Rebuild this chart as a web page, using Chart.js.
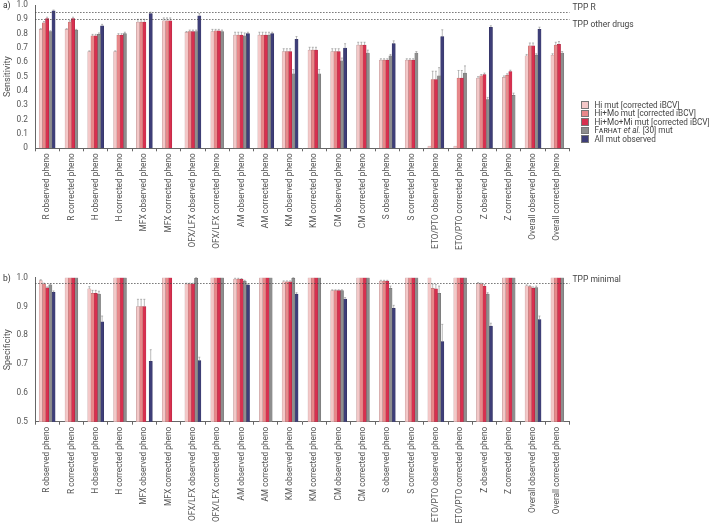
<!DOCTYPE html>
<html>
<head>
<meta charset="utf-8">
<script src="https://cdn.jsdelivr.net/npm/chart.js@4.4.1/dist/chart.umd.min.js"></script>
<style>
    body { margin: 0; background: #fff; font-family: Roboto, sans-serif; }
    #wrap { position: relative; width: 709px; height: 523px; overflow: hidden; }
    canvas { position: absolute; left: 0; }
    #sens-chart { top: 0; }
    #spec-chart { top: 252px; }
    .panel { position: absolute; left: 3px; font-size: 8.5px; color: #333; }
    #legend { position: absolute; left: 581px; top: 100.5px; font-size: 8.2px; color: #444; white-space: nowrap; }
    #legend .item { height: 8.6px; line-height: 8.6px; display: flex; align-items: center; }
    #legend .sw { width: 5.5px; height: 5.5px; margin-right: 6px; border: 0.5px solid #777; flex: none; }
    .sc { font-variant: small-caps; }
</style>
</head>
<body>
<div id="wrap">
    <canvas id="sens-chart" width="709" height="252"></canvas>
    <canvas id="spec-chart" width="709" height="271"></canvas>
    <div class="panel" style="top:0px">a)</div>
    <div class="panel" style="top:273px">b)</div>
    <div id="legend"></div>
</div>
<script>
const categories = [
    "R observed pheno", "R corrected pheno", "H observed pheno", "H corrected pheno",
    "MFX observed pheno", "MFX corrected pheno", "OFX/LFX observed pheno", "OFX/LFX corrected pheno",
    "AM observed pheno", "AM corrected pheno", "KM observed pheno", "KM corrected pheno",
    "CM observed pheno", "CM corrected pheno", "S observed pheno", "S corrected pheno",
    "ETO/PTO observed pheno", "ETO/PTO corrected pheno", "Z observed pheno", "Z corrected pheno",
    "Overall observed pheno", "Overall corrected pheno",
];

const seriesLabels = [
    "Hi mut [corrected iBCV]",
    "Hi+Mo mut [corrected iBCV]",
    "Hi+Mo+Mi mut [corrected iBCV]",
    "Farhat et al. [30] mut",
    "All mut observed",
];
const seriesColors = ["#f4c8c8", "#e8888a", "#d8304f", "#8e8e8e", "#3e3e78"];
const seriesBorders = ["#b99494", "#b86366", "#a82440", "#6e6e6e", "#2e2e5c"];

// sensitivity (panel a)
const hiSens = [0.83, 0.83, 0.675, 0.675, 0.88, 0.89, 0.81, 0.815, 0.79, 0.79, 0.675, 0.685, 0.675, 0.72, 0.615, 0.615, 0.015, 0.015, 0.49, 0.495, 0.645, 0.65];
const hiMoSens = [0.875, 0.88, 0.785, 0.79, 0.88, 0.89, 0.815, 0.82, 0.79, 0.79, 0.675, 0.685, 0.675, 0.72, 0.615, 0.615, 0.48, 0.49, 0.505, 0.51, 0.715, 0.72];
const hiMoMiSens = [0.905, 0.905, 0.785, 0.79, 0.88, 0.89, 0.815, 0.82, 0.79, 0.79, 0.675, 0.685, 0.675, 0.72, 0.615, 0.615, 0.48, 0.49, 0.515, 0.535, 0.715, 0.725];
const farhatSens = [0.815, 0.825, 0.795, 0.8, 0, 0, 0.815, 0.815, 0.785, 0.79, 0.52, 0.52, 0.61, 0.665, 0.645, 0.665, 0.505, 0.525, 0.34, 0.37, 0.65, 0.665];
const allObsSens = [0.96, null, 0.855, null, 0.94, null, 0.925, null, 0.8, 0.8, 0.76, null, 0.7, null, 0.73, null, 0.78, null, 0.845, null, 0.83, null];

const hiSensErr = [0.005, 0.005, 0.005, 0.005, 0.02, 0.02, 0.005, 0.015, 0.02, 0.02, 0.02, 0.02, 0.02, 0.02, 0.01, 0.01, 0, 0, 0.01, 0.01, 0.01, 0.01];
const hiMoSensErr = [0.01, 0.01, 0.01, 0.01, 0.02, 0.02, 0.01, 0.01, 0.02, 0.02, 0.02, 0.02, 0.02, 0.02, 0.01, 0.01, 0.058, 0.053, 0.01, 0.01, 0.02, 0.02];
const hiMoMiSensErr = [0.01, 0.01, 0.01, 0.01, 0.02, 0.02, 0.01, 0.01, 0.02, 0.02, 0.02, 0.02, 0.02, 0.02, 0.01, 0.01, 0.058, 0.053, 0.01, 0.01, 0.02, 0.02];
const farhatSensErr = [0.005, 0.005, 0.01, 0.01, 0, 0, 0.01, 0.01, 0.02, 0.02, 0.03, 0.03, 0.02, 0.02, 0.01, 0.01, 0.058, 0.05, 0.015, 0.015, 0.01, 0.01];
const allObsSensErr = [0.005, 0, 0.01, 0, 0.01, 0, 0.015, 0, 0.01, 0.01, 0.02, 0, 0.03, 0, 0.02, 0, 0.047, 0, 0.01, 0, 0.015, 0];

// specificity (panel b)
const hiSpec = [0.99, 1, 0.961, 1, 0.9, 1, 0.978, 1, 0.995, 1, 0.986, 1, 0.955, 1, 0.988, 1, 1, 1, 0.98, 1, 0.972, 1];
const hiMoSpec = [0.978, 1, 0.946, 1, 0.9, 1, 0.978, 1, 0.995, 1, 0.986, 1, 0.955, 1, 0.988, 1, 0.963, 1, 0.978, 1, 0.969, 1];
const hiMoMiSpec = [0.965, 1, 0.946, 1, 0.9, 1, 0.978, 1, 0.994, 1, 0.986, 1, 0.955, 1, 0.988, 1, 0.961, 1, 0.971, 1, 0.963, 1];
const farhatSpec = [0.975, 1, 0.943, 1, 0, 0, 0.998, 1, 0.988, 1, 0.998, 1, 0.955, 1, 0.963, 1, 0.946, 1, 0.943, 1, 0.966, 1];
const allObsSpec = [0.949, null, 0.847, null, 0.71, null, 0.712, null, 0.975, null, 0.943, null, 0.926, null, 0.894, null, 0.778, null, 0.832, null, 0.855, null];

const hiSpecErr = [0.003, 0, 0.008, 0, 0.025, 0, 0.003, 0, 0.003, 0, 0.003, 0, 0.003, 0, 0.003, 0, 0, 0, 0.003, 0, 0.003, 0];
const hiMoSpecErr = [0.003, 0, 0.01, 0, 0.025, 0, 0.003, 0, 0.003, 0, 0.003, 0, 0.003, 0, 0.003, 0, 0.015, 0, 0.003, 0, 0.003, 0];
const hiMoMiSpecErr = [0.003, 0, 0.01, 0, 0.025, 0, 0.003, 0, 0.003, 0, 0.003, 0, 0.003, 0, 0.003, 0, 0.015, 0, 0.005, 0, 0.005, 0];
const farhatSpecErr = [0.003, 0, 0.01, 0, 0, 0, 0.002, 0, 0.003, 0, 0.002, 0, 0.003, 0, 0.008, 0, 0.025, 0, 0.005, 0, 0.005, 0];
const allObsSpecErr = [0.005, 0, 0.02, 0, 0.04, 0, 0.012, 0, 0.004, 0, 0.005, 0, 0.005, 0, 0.01, 0, 0.06, 0, 0.01, 0, 0.012, 0];

// target product profile thresholds
const tppSensValues = [0.95, 0.9];
const tppSensLabels = ["TPP R", "TPP other drugs"];
const tppSpecValues = [0.98];
const tppSpecLabels = ["TPP minimal"];

Chart.defaults.font.family = "Roboto";

const errorBarPlugin = {
    id: "errorBars",
    afterDatasetsDraw(chart) {
        const { ctx } = chart;
        const yScale = chart.scales.y;
        ctx.save();
        ctx.lineWidth = 0.6;
        ctx.strokeStyle = "#8c8c8c";
        chart.data.datasets.forEach((ds, i) => {
            const meta = chart.getDatasetMeta(i);
            meta.data.forEach((bar, j) => {
                const v = ds.data[j];
                const e = ds.errors[j];
                if (v == null || !e) return;
                const top = yScale.getPixelForValue(Math.min(v + e, yScale.max));
                ctx.beginPath();
                ctx.moveTo(bar.x, bar.y);
                ctx.lineTo(bar.x, top);
                ctx.moveTo(bar.x - 1, top);
                ctx.lineTo(bar.x + 1, top);
                ctx.stroke();
            });
        });
        ctx.restore();
    },
};

const refLinePlugin = {
    id: "refLines",
    afterDatasetsDraw(chart, args, opts) {
        const { ctx, chartArea } = chart;
        const yScale = chart.scales.y;
        ctx.save();
        ctx.strokeStyle = "#444";
        ctx.lineWidth = 0.7;
        ctx.setLineDash([1.6, 1.4]);
        ctx.fillStyle = "#444";
        ctx.font = "8.5px Roboto";
        ctx.textBaseline = "middle";
        opts.values.forEach((value, i) => {
            const py = Math.round(yScale.getPixelForValue(value)) + 0.5;
            ctx.beginPath();
            ctx.moveTo(chartArea.left, py);
            ctx.lineTo(chartArea.right, py);
            ctx.stroke();
            ctx.fillText(opts.labels[i], chartArea.right + 3, py + opts.offsets[i]);
        });
        ctx.restore();
    },
};

function makeDatasets(values, errors) {
    return values.map((data, i) => ({
        label: seriesLabels[i],
        data: data,
        errors: errors[i],
        backgroundColor: seriesColors[i],
        borderColor: seriesBorders[i],
        borderWidth: 0.5,
    }));
}

function makeOptions(min, title, xHeight, top, refs) {
    return {
        responsive: false,
        animation: false,
        layout: { padding: { top: top, right: 139.5, left: 0, bottom: 0 } },
        datasets: { bar: { barThickness: 3.2, skipNull: true } },
        plugins: {
            legend: { display: false },
            tooltip: { enabled: false },
            refLines: refs,
        },
        scales: {
            x: {
                grid: { drawOnChartArea: false, tickLength: 3, color: "#666" },
                border: { color: "#666" },
                ticks: {
                    autoSkip: false,
                    minRotation: 90,
                    maxRotation: 90,
                    padding: 2,
                    color: "#555",
                    font: { size: 8.3 },
                },
                afterFit: (scale) => { scale.height = xHeight; },
            },
            y: {
                min: min,
                max: 1,
                grid: { display: false, drawTicks: false },
                border: { color: "#666" },
                ticks: {
                    stepSize: 0.1,
                    padding: 7,
                    color: "#555",
                    font: { size: 8.3 },
                    callback: (v) => (v === 0 ? "0" : v.toFixed(1)),
                },
                title: { display: true, text: title, color: "#555", font: { size: 9 }, padding: { top: 2, bottom: 2 } },
                afterFit: (scale) => {
                    scale.width = 35;
                    scale.paddingTop = 4;
                    scale.paddingBottom = 4;
                },
            },
        },
    };
}

document.addEventListener("DOMContentLoaded", () => {
    const $sensChart = document.querySelector("#sens-chart");
    const $specChart = document.querySelector("#spec-chart");
    const $legend = document.querySelector("#legend");

    new Chart($sensChart, {
        type: "bar",
        data: {
            labels: categories,
            datasets: makeDatasets(
                [hiSens, hiMoSens, hiMoMiSens, farhatSens, allObsSens],
                [hiSensErr, hiMoSensErr, hiMoMiSensErr, farhatSensErr, allObsSensErr],
            ),
        },
        options: makeOptions(0, "Sensitivity", 103.7, 5, {
            values: tppSensValues,
            labels: tppSensLabels,
            offsets: [-5, 5.5],
        }),
        plugins: [errorBarPlugin, refLinePlugin],
    });

    new Chart($specChart, {
        type: "bar",
        data: {
            labels: categories,
            datasets: makeDatasets(
                [hiSpec, hiMoSpec, hiMoMiSpec, farhatSpec, allObsSpec],
                [hiSpecErr, hiMoSpecErr, hiMoMiSpecErr, farhatSpecErr, allObsSpecErr],
            ),
        },
        options: makeOptions(0.5, "Specificity", 101.3, 25.7, {
            values: tppSpecValues,
            labels: tppSpecLabels,
            offsets: [-4],
        }),
        plugins: [errorBarPlugin, refLinePlugin],
    });

    // legend (Farhat in small caps, et al. in italics as in the figure)
    seriesLabels.forEach((label, i) => {
        const $item = document.createElement("div");
        $item.className = "item";
        const $sw = document.createElement("span");
        $sw.className = "sw";
        $sw.style.background = seriesColors[i];
        $item.appendChild($sw);
        const $text = document.createElement("span");
        if (label.startsWith("Farhat")) {
            $text.innerHTML = '<span class="sc">Farhat</span> <i>et al.</i> [30] mut';
        } else {
            $text.textContent = label;
        }
        $item.appendChild($text);
        $legend.appendChild($item);
    });
});
</script>
</body>
</html>
